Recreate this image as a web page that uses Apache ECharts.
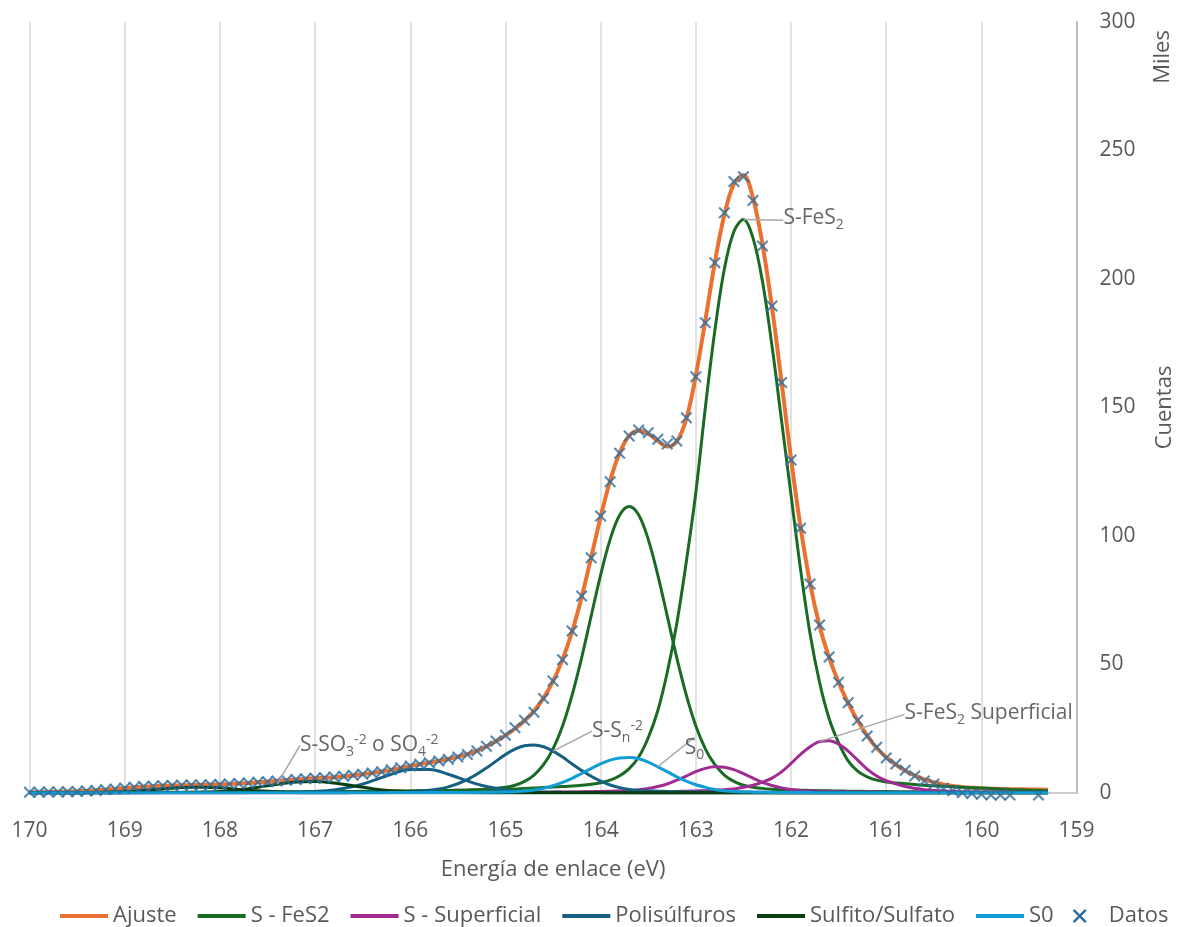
<!DOCTYPE html>
<html><head><meta charset="utf-8">
<script src="https://cdn.jsdelivr.net/npm/echarts@6/dist/echarts.min.js"></script>
<style>html,body{margin:0;padding:0;background:#fff}#c{width:1190px;height:927px}</style>
</head><body><div id="c"></div>
<script>
// ---- Datos medidos (eje x: energía de enlace, eV; y: cuentas en miles) ----
const energia = [
170.0,169.9,169.8,169.7,169.6,169.5,169.4,169.3,169.2,169.1,
169.0,168.9,168.8,168.7,168.6,168.5,168.4,168.3,168.2,168.1,
168.0,167.9,167.8,167.7,167.6,167.5,167.4,167.3,167.2,167.1,
167.0,166.9,166.8,166.7,166.6,166.5,166.4,166.3,166.2,166.1,
166.0,165.9,165.8,165.7,165.6,165.5,165.4,165.3,165.2,165.1,
165.0,164.9,164.8,164.7,164.6,164.5,164.4,164.3,164.2,164.1,
164.0,163.9,163.8,163.7,163.6,163.5,163.4,163.3,163.2,163.1,
163.0,162.9,162.8,162.7,162.6,162.5,162.4,162.3,162.2,162.1,
162.0,161.9,161.8,161.7,161.6,161.5,161.4,161.3,161.2,161.1,
161.0,160.9,160.8,160.7,160.6,160.5,160.4,160.3,160.2,160.1,
160.0,159.9,159.8,159.7,159.6,159.5,159.4,159.3];

const datos = [
0.3,0.3,0.4,0.4,0.5,0.6,0.8,1.0,1.3,1.6,
1.9,2.2,2.5,2.6,2.8,2.9,3.0,3.1,3.1,3.2,
3.3,3.5,3.7,3.9,4.2,4.4,4.7,5.0,5.3,5.5,
5.7,5.9,6.2,6.5,6.9,7.3,7.8,8.3,9.0,9.8,
10.5,11.2,11.8,12.5,13.1,14.0,15.0,16.3,18.2,20.2,
22.5,25.4,28.3,31.4,36.8,43.6,51.8,63.0,76.7,91.5,
107.8,121.1,132.2,138.9,141.2,140.2,137.6,135.8,137.0,146.0,
162.0,183.0,206.3,225.8,237.9,239.8,230.5,212.8,189.5,159.7,
129.6,103.0,81.3,65.4,52.9,43.1,35.1,28.3,22.2,17.8,
13.6,11.3,8.9,6.6,4.7,3.5,1.8,0.9,0.1,-0.2,
-0.5,-0.8,-0.8,-0.8,null,null,-0.8,null];

const ajuste = [
0.3,0.35,0.4,0.45,0.55,0.7,0.85,1.05,1.3,1.6,
1.9,2.2,2.45,2.65,2.8,2.9,3.0,3.1,3.15,3.25,
3.35,3.5,3.7,3.9,4.15,4.4,4.7,5.0,5.25,5.5,
5.7,5.9,6.15,6.45,6.85,7.3,7.8,8.35,9.0,9.75,
10.5,11.2,11.85,12.5,13.2,14.1,15.1,16.4,18.1,20.1,
22.4,25.0,28.1,31.9,36.9,43.5,52.0,62.8,76.2,91.6,
107.4,121.6,132.4,139.0,141.0,139.8,137.0,134.8,136.8,145.6,
162.4,184.0,206.5,225.0,237.0,240.5,231.6,213.5,189.0,160.0,
130.2,103.5,81.6,65.0,52.8,43.0,35.0,28.2,22.3,17.5,
13.9,11.0,8.7,6.8,5.3,4.2,3.3,2.7,2.3,2.0,
1.8,1.7,1.6,1.5,1.5,1.4,1.4,1.3];

// ---- Componentes del ajuste ----
const energiaComp = [170.0,169.6,169.2,168.8,168.6,168.4,168.2,168.0,
167.8,167.6,167.4,167.2,167.0,166.8,166.6,166.4,166.2,166.0,165.8,165.6,165.4,165.2,
165.0,164.9,164.8,164.7,164.6,164.5,164.4,164.3,164.2,164.1,
164.0,163.9,163.8,163.7,163.6,163.5,163.4,163.3,163.2,163.1,
163.0,162.9,162.8,162.7,162.6,162.5,162.4,162.3,162.2,162.1,
162.0,161.9,161.8,161.7,161.6,161.5,161.4,161.3,161.2,161.1,
161.0,160.8,160.6,160.4,160.2,160.0,159.7,159.3];

const fes2A = [0.2,0.22,0.25,0.28,0.3,0.3,0.33,0.35,
0.38,0.4,0.44,0.47,0.5,0.55,0.6,0.7,0.75,0.8,0.9,1.0,1.1,1.3,
1.5,1.6,1.8,1.9,2.1,2.3,2.5,2.7,3.0,3.4,
4.0,5.0,6.7,9.5,14,21.5,32,47,66,90,
117,150,180,204,218.5,223.2,216,199,174,145,
116,87,62,43,29,19.5,12.5,8.5,6.3,5.0,
4.3,3.6,3.0,2.6,2.2,1.9,1.4,0.9];

const fes2B = [0.11,0.13,0.14,0.17,0.18,0.19,0.21,0.23,
0.25,0.28,0.31,0.34,0.38,0.42,0.48,0.54,0.62,0.72,0.83,1.0,1.2,1.5,
2.2,3.0,4.5,7.0,11.0,17.2,26.1,38.1,52.6,68.8,
84.9,98.7,108.2,111.5,108.2,98.7,84.9,68.8,52.6,38.1,
26.1,17.2,11.0,7.0,4.5,3.0,2.2,1.8,1.5,1.3,
1.2,1.1,1.0,0.9,0.83,0.77,0.72,0.67,0.62,0.58,
0.54,0.48,0.42,0.38,0.34,0.31,0.26,0.22];

const supA = [0.08,0.08,0.09,0.09,0.1,0.1,0.1,0.1,
0.11,0.11,0.12,0.12,0.13,0.14,0.15,0.16,0.17,0.18,0.19,0.2,0.21,0.23,
0.25,0.26,0.27,0.28,0.29,0.3,0.31,0.32,0.34,0.35,
0.37,0.39,0.41,0.43,0.46,0.49,0.5,0.55,0.6,0.7,
0.8,0.9,1.1,1.3,1.6,2.2,3.0,4.2,5.8,8.2,
11.5,15.0,18.0,20.0,20.3,19.0,16.3,12.8,9.3,6.6,
4.8,2.5,1.3,0.8,0.5,0.4,0.3,0.2];

const supB = [0.07,0.07,0.08,0.08,0.09,0.09,0.1,0.1,
0.11,0.11,0.12,0.13,0.13,0.14,0.15,0.16,0.17,0.18,0.2,0.21,0.23,0.25,
0.27,0.28,0.3,0.31,0.33,0.35,0.38,0.41,0.45,0.5,
0.6,0.7,0.85,1.0,1.3,1.8,2.5,3.5,5.0,6.6,
8.3,9.6,10.2,10.0,9.1,7.5,5.8,4.1,2.9,2.0,
1.4,1.0,0.8,0.7,0.6,0.5,0.45,0.4,0.38,0.35,
0.32,0.3,0.27,0.25,0.22,0.2,0.18,0.15];

const polA = [0.1,0.11,0.12,0.14,0.15,0.16,0.17,0.18,
0.2,0.21,0.22,0.25,0.27,0.3,0.33,0.38,0.45,0.6,1.1,2.4,5.2,9.7,
15.0,17.1,18.4,18.7,18.0,16.3,14.0,11.3,8.8,6.5,
4.6,3.1,2.1,1.4,1.0,0.8,0.7,0.6,0.55,0.5,
0.45,0.42,0.4,0.38,0.36,0.35,0.34,0.33,0.32,0.31,
0.3,0.29,0.28,0.27,0.26,0.25,0.24,0.23,0.22,0.21,
0.2,0.19,0.18,0.17,0.16,0.15,0.13,0.12];

const polB = [0.05,0.06,0.07,0.08,0.09,0.1,0.11,0.12,
0.14,0.16,0.2,0.3,0.6,1.2,2.5,4.7,7.3,9.1,9.1,7.3,4.7,2.5,
1.2,0.6,0.45,0.35,0.28,0.26,0.24,0.22,0.2,0.19,
0.18,0.17,0.16,0.15,0.14,0.14,0.13,0.13,0.12,0.12,
0.11,0.11,0.1,0.1,0.1,0.09,0.09,0.09,0.08,0.08,
0.08,0.08,0.07,0.07,0.07,0.07,0.07,0.06,0.06,0.06,
0.06,0.06,0.05,0.05,0.05,0.05,0.05,0.05];

const sulA = [0.08,0.1,0.12,0.15,0.17,0.2,0.35,0.6,
1.2,2.2,3.4,4.3,4.5,3.9,2.8,1.7,0.9,0.45,0.25,0.18,0.15,0.13,
0.12,0.11,0.11,0.1,0.1,0.1,0.09,0.09,0.09,0.08,
0.08,0.08,0.08,0.07,0.07,0.07,0.07,0.06,0.06,0.06,
0.06,0.06,0.05,0.05,0.05,0.05,0.05,0.05,0.05,0.04,
0.04,0.04,0.04,0.04,0.04,0.04,0.04,0.04,0.04,0.03,
0.03,0.03,0.03,0.03,0.03,0.03,0.03,0.03];

const sulB = [0.06,0.1,0.25,1.0,1.6,2.1,2.25,2.0,
1.4,0.85,0.45,0.2,0.12,0.1,0.09,0.08,0.08,0.07,0.07,0.06,0.06,0.06,
0.05,0.05,0.05,0.05,0.05,0.05,0.05,0.05,0.05,0.05,
0.05,0.04,0.04,0.04,0.04,0.04,0.04,0.04,0.04,0.04,
0.04,0.04,0.04,0.04,0.04,0.04,0.03,0.03,0.03,0.03,
0.03,0.03,0.03,0.03,0.03,0.03,0.03,0.03,0.03,0.03,
0.03,0.03,0.02,0.02,0.02,0.02,0.02,0.02];

const s0 = [0.05,0.05,0.06,0.06,0.07,0.07,0.08,0.08,
0.09,0.09,0.1,0.1,0.11,0.12,0.13,0.14,0.15,0.16,0.18,0.2,0.22,0.27,
0.35,0.5,0.75,1.2,1.8,2.8,4.1,5.7,7.6,9.5,
11.3,12.8,13.6,13.8,13.3,12.0,10.2,8.3,6.3,4.6,
3.2,2.2,1.4,0.9,0.6,0.42,0.33,0.27,0.23,0.2,
0.18,0.16,0.15,0.14,0.13,0.12,0.11,0.1,0.1,0.09,
0.09,0.08,0.08,0.07,0.07,0.06,0.06,0.05];

const ticksX = [170,169,168,167,166,165,164,163,162,161,160,159];
const leyenda = ['Ajuste','S - FeS2','S - Superficial','Polisúlfuros','Sulfito/Sulfato','S0','Datos'];

// ---- Estilo ----
const FONT = 'Open Sans';
const GRIS = '#595959';
const C = {ajuste:'#E97132', fes2:'#196B24', sup:'#A02B93', pol:'#156082', sul:'#0B3D13', s0:'#0F9ED5', datos:'#2E6E9E'};
const X_PATH = 'path://M1.5,0 L6,4.5 L10.5,0 L12,1.5 L7.5,6 L12,10.5 L10.5,12 L6,7.5 L1.5,12 L0,10.5 L4.5,6 L0,1.5 Z';

function pares(xs, ys){ return xs.map((x,i)=>[x, ys[i]]); }
function linea(name, xs, ys, color, width){
  return {type:'line', name, data: pares(xs, ys), smooth:0.35, symbol:'none',
    lineStyle:{color, width}, itemStyle:{color}, silent:true, animation:false};
}

const anot = [
  {x:162.5, ys:fes2A, txt:'{n|S-FeS}{sub|2}', dx:40, dy:-1},
  {x:161.7, ys:supA, txt:'{n|S-FeS}{sub|2}{n| Superficial}', dx:85, dy:-29},
  {x:163.4, ys:s0, txt:'{n|S}{sub|0}', dx:27, dy:-19},
  {x:164.5, ys:polA, txt:'{n|S-S}{sub|n}{sup|-2}', dx:39, dy:-20},
  {x:167.4, ys:sulA, txt:'{n|S-SO}{sub|3}{sup|-2}{n| o SO}{sub|4}{sup|-2}', dx:23, dy:-39}
];

const TXT = '#404040';
const rich = {
  n:{fontSize:21, fontFamily:FONT, color:TXT, lineHeight:28, verticalAlign:'middle'},
  sub:{fontSize:14, fontFamily:FONT, color:TXT, lineHeight:14, verticalAlign:'bottom'},
  sup:{fontSize:14, fontFamily:FONT, color:TXT, lineHeight:14, verticalAlign:'top', padding:[2,0,0,0]}
};

const series = [
  linea('Ajuste', energia, ajuste, C.ajuste, 4),
  linea('S - FeS2', energiaComp, fes2A, C.fes2, 3),
  linea('S - FeS2', energiaComp, fes2B, C.fes2, 3),
  linea('S - Superficial', energiaComp, supA, C.sup, 3),
  linea('S - Superficial', energiaComp, supB, C.sup, 3),
  linea('Polisúlfuros', energiaComp, polA, C.pol, 3),
  linea('Polisúlfuros', energiaComp, polB, C.pol, 3),
  linea('Sulfito/Sulfato', energiaComp, sulA, C.sul, 3),
  linea('Sulfito/Sulfato', energiaComp, sulB, C.sul, 3),
  linea('S0', energiaComp, s0, C.s0, 3),
  {type:'scatter', name:'Datos', data: pares(energia, datos).filter(p=>p[1]!==null),
   symbol:X_PATH, symbolSize:12, itemStyle:{color:C.datos}, clip:false, silent:true, animation:false, z:5},
  {type:'scatter', name:'anotaciones', symbolSize:0, silent:true, animation:false, z:6,
   data: anot.map(a=>({value:[a.x, a.ys[energiaComp.indexOf(a.x)]], label:{formatter:a.txt}})),
   label:{show:true, position:'right', distance:0, rich},
   labelLine:{show:true, lineStyle:{color:'#A6A6A6', width:1.5}},
   labelLayout:(p)=>({dx:anot[p.dataIndex].dx, dy:anot[p.dataIndex].dy})}
];

const chart = echarts.init(document.getElementById('c'));
chart.setOption({
  animation:false,
  backgroundColor:'#ffffff',
  textStyle:{fontFamily:FONT},
  grid:{left:29.5, right:113.4, top:22, bottom:134, containLabel:false},
  xAxis:{type:'value', inverse:true, min:159, max:170, interval:1,
    name:'Energía de enlace (eV)', nameLocation:'middle', nameGap:66,
    nameTextStyle:{fontSize:22, color:GRIS, fontFamily:FONT},
    axisLine:{show:true, lineStyle:{color:'#BFBFBF', width:1.5}},
    axisTick:{show:false},
    axisLabel:{fontSize:21, color:GRIS, margin:28, fontFamily:FONT,
      formatter:(v)=> ticksX.includes(v) ? String(v) : ''},
    splitLine:{show:true, lineStyle:{color:'#D9D9D9', width:1.5}}},
  yAxis:{type:'value', position:'right', min:0, max:300, interval:50,
    name:'Cuentas', nameLocation:'middle', nameGap:77, nameRotate:90,
    nameTextStyle:{fontSize:22, color:GRIS, fontFamily:FONT},
    axisLine:{show:true, lineStyle:{color:'#BFBFBF', width:2}},
    axisTick:{show:false},
    axisLabel:{fontSize:21, color:GRIS, margin:23, fontFamily:FONT, padding:[5,0,0,0]},
    splitLine:{show:false}},
  legend:{data: leyenda.map(n=> n==='Datos'
      ? {name:n, icon:X_PATH, itemStyle:{opacity:1}}
      : {name:n, itemStyle:{opacity:0}}),
    left:53, top:900, itemWidth:48, itemHeight:14, itemGap:19,
    lineStyle:{width:4},
    textStyle:{fontSize:22, color:GRIS, fontFamily:FONT}},
  graphic:[{type:'text', x:1163, y:57, rotation:Math.PI/2,
    style:{text:'Miles', fontSize:22, fill:GRIS, fontFamily:FONT, align:'center', verticalAlign:'middle'}}],
  series
});
</script></body></html>
